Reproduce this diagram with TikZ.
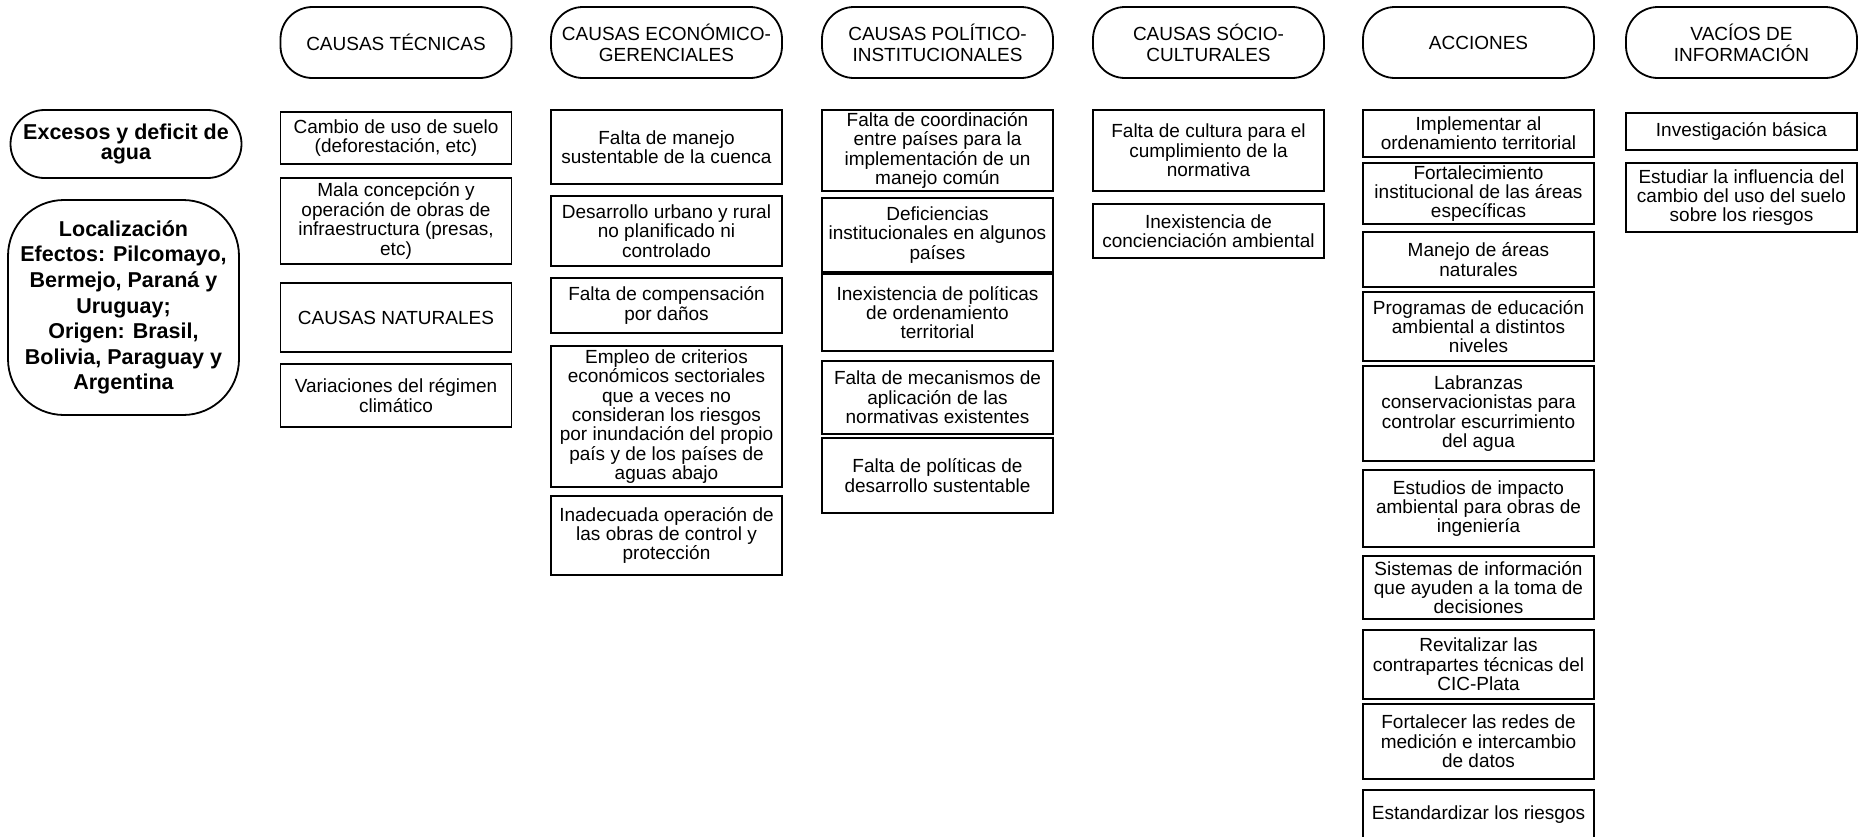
\documentclass[tikz,border=0pt]{standalone}
\usepackage{fontspec}
\setmainfont{Liberation Sans}

\tikzset{
  caja/.style={draw, rectangle, line width=0.9pt, inner sep=1pt, align=center,
    minimum width=115.5pt, minimum height=#1*0.5pt,
    font=\fontsize{9.5}{9.7}\selectfont},
  titulo/.style={draw, rectangle, rounded corners=16pt, line width=0.9pt, inner sep=1pt,
    align=center, minimum width=115.5pt, minimum height=35.5pt,
    font=\fontsize{9.5}{10.5}\selectfont},
  tema/.style={draw, rectangle, line width=0.9pt, inner sep=1pt, align=center,
    minimum width=115.5pt, font=\bfseries\fontsize{10.75}{#1}\selectfont}
}

\begin{document}
\begin{tikzpicture}[x=0.5pt, y=-0.5pt]
    \useasboundingbox (0,0) rectangle (1859,836);

    \node[tema=10, rounded corners=17pt, minimum height=34pt] (excesos) at (126,144) {Excesos y deficit de\\agua};
    \node[tema=12.8, rounded corners=28pt, minimum height=107.5pt] (localiz) at (123.5,307.5) {Localización\\Efectos: Pilcomayo,\\Bermejo, Paraná y\\Uruguay;\\Origen: Brasil,\\Bolivia, Paraguay y\\Argentina};

    \node[titulo] (tTec) at (396,42.5) {CAUSAS TÉCNICAS};
    \node[titulo] (tEco) at (666.5,42.5) {CAUSAS ECONÓMICO-\\GERENCIALES};
    \node[titulo] (tPol) at (937.5,42.5) {CAUSAS POLÍTICO-\\INSTITUCIONALES};
    \node[titulo] (tSoc) at (1208.5,42.5) {CAUSAS SÓCIO-\\CULTURALES};
    \node[titulo] (tAcc) at (1478.5,42.5) {ACCIONES};
    \node[titulo] (tVac) at (1741.5,42.5) {VACÍOS DE\\INFORMACIÓN};

    \node[caja=52] (tec1) at (396,138) {Cambio de uso de suelo\\(deforestación, etc)};
    \node[caja=86] (tec2) at (396,221) {Mala concepción y\\operación de obras de\\infraestructura (presas,\\etc)};
    \node[caja=69] (tec3) at (396,317.5) {CAUSAS NATURALES};
    \node[caja=63] (tec4) at (396,395.5) {Variaciones del régimen\\climático};

    \node[caja=74] (eco1) at (666.5,147) {Falta de manejo\\sustentable de la cuenca};
    \node[caja=70] (eco2) at (666.5,231) {Desarrollo urbano y rural\\no planificado ni\\controlado};
    \node[caja=55] (eco3) at (666.5,305.5) {Falta de compensación\\por daños};
    \node[caja=141] (eco4) at (666.5,416.5) {Empleo de criterios\\económicos sectoriales\\que a veces no\\consideran los riesgos\\por inundación del propio\\país y de los países de\\aguas abajo};
    \node[caja=79] (eco5) at (666.5,535.5) {Inadecuada operación de\\las obras de control y\\protección};

    \node[caja=81] (pol1) at (937.5,150.5) {Falta de coordinación\\entre países para la\\implementación de un\\manejo común};
    \node[caja=74] (pol2) at (937.5,235) {Deficiencias\\institucionales en algunos\\países};
    \node[caja=77] (pol3) at (937.5,312.5) {Inexistencia de políticas\\de ordenamiento\\territorial};
    \node[caja=73] (pol4) at (937.5,397.5) {Falta de mecanismos de\\aplicación de las\\normativas existentes};
    \node[caja=75] (pol5) at (937.5,475.5) {Falta de políticas de\\desarrollo sustentable};

    \node[caja=81] (soc1) at (1208.5,150.5) {Falta de cultura para el\\cumplimiento de la\\normativa};
    \node[caja=54] (soc2) at (1208.5,231) {Inexistencia de\\concienciación ambiental};

    \node[caja=47] (acc1) at (1478.5,133.5) {Implementar al\\ordenamiento territorial};
    \node[caja=61] (acc2) at (1478.5,193.5) {Fortalecimiento\\institucional de las áreas\\específicas};
    \node[caja=55] (acc3) at (1478.5,259.5) {Manejo de áreas\\naturales};
    \node[caja=69] (acc4) at (1478.5,326.5) {Programas de educación\\ambiental a distintos\\niveles};
    \node[caja=95] (acc5) at (1478.5,413.5) {Labranzas\\conservacionistas para\\controlar escurrimiento\\del agua};
    \node[caja=77] (acc6) at (1478.5,508.5) {Estudios de impacto\\ambiental para obras de\\ingeniería};
    \node[caja=63] (acc7) at (1478.5,587.5) {Sistemas de información\\que ayuden a la toma de\\decisiones};
    \node[caja=69] (acc8) at (1478.5,664.5) {Revitalizar las\\contrapartes técnicas del\\CIC-Plata};
    \node[caja=75] (acc9) at (1478.5,741.5) {Fortalecer las redes de\\medición e intercambio\\de datos};
    \node[caja=50] (acc10) at (1478.5,815) {Estandardizar los riesgos};

    \node[caja=37] (vac1) at (1741.5,131.5) {Investigación básica};
    \node[caja=69] (vac2) at (1741.5,197.5) {Estudiar la influencia del\\cambio del uso del suelo\\sobre los riesgos};
\end{tikzpicture}
\end{document}
